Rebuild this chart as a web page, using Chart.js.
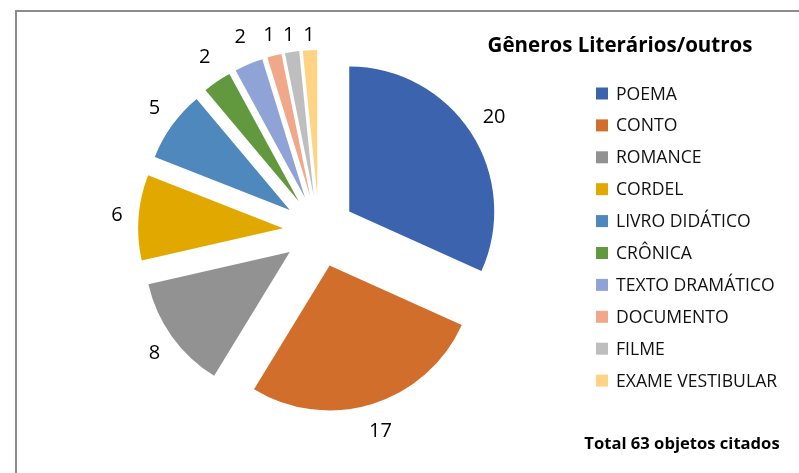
<!DOCTYPE html>
<html>
<head>
<meta charset="utf-8">
<script src="https://cdn.jsdelivr.net/npm/chart.js@4"></script>
<style>
  body { margin: 0; background: #fff; }
  #wrap { position: relative; width: 799px; height: 473px; overflow: hidden; }
  #frame { position: absolute; left: 15px; top: 10px; width: 800px; height: 480px; border: 2px solid #8c8c8c; }
  #chart { position: absolute; left: 0; top: 0; }
</style>
</head>
<body>
<div id="wrap">
  <div id="frame"></div>
  <canvas id="chart" width="799" height="473"></canvas>
</div>
<script>
const categories = ['POEMA', 'CONTO', 'ROMANCE', 'CORDEL', 'LIVRO DIDÁTICO', 'CRÔNICA',
    'TEXTO DRAMÁTICO', 'DOCUMENTO', 'FILME', 'EXAME VESTIBULAR'];
const counts = [20, 17, 8, 6, 5, 2, 2, 1, 1, 1];
const sliceColors = ['#3c64ae', '#d26e2b', '#929292', '#e1a900', '#4f88bd', '#62993e',
    '#8fa3d6', '#f1a78a', '#bebebe', '#ffd384'];
const legendTitle = 'Gêneros Literários/outros';
const totalNote = 'Total 63 objetos citados';

const FONT = "'Open Sans', sans-serif";
const EXPLODE = 36;

// push every slice out along its middle angle
const explodePlugin = {
    id: 'explode',
    beforeDatasetDraw(chart, args) {
        args.meta.data.forEach((arc) => {
            if (arc.explodeWrapped) return;
            const baseDraw = arc.draw;
            arc.draw = function () {
                const ctx = arguments[0];
                const mid = (this.startAngle + this.endAngle) / 2;
                ctx.save();
                ctx.translate(Math.cos(mid) * EXPLODE, Math.sin(mid) * EXPLODE);
                baseDraw.apply(this, arguments);
                ctx.restore();
            };
            arc.explodeWrapped = true;
        });
    }
};

// value labels outside each slice
const valueLabels = {
    id: 'valueLabels',
    afterDatasetsDraw(chart) {
        const ctx = chart.ctx;
        const meta = chart.getDatasetMeta(0);
        const values = chart.data.datasets[0].data;
        ctx.save();
        ctx.font = '20px ' + FONT;
        ctx.fillStyle = '#000';
        ctx.textAlign = 'center';
        ctx.textBaseline = 'middle';
        meta.data.forEach((arc, i) => {
            const text = String(values[i]);
            const mid = (arc.startAngle + arc.endAngle) / 2;
            const dx = Math.cos(mid), dy = Math.sin(mid);
            const r = arc.outerRadius + EXPLODE + 16;
            const w = ctx.measureText(text).width;
            let x = arc.x + dx * r + dx * w / 2;
            let y = arc.y + dy * r + dy * 13;
            y = Math.max(y, 35);
            ctx.fillText(text, x, y);
        });
        ctx.restore();
    }
};

// legend block, title and note on the right
const sideLegend = {
    id: 'sideLegend',
    afterDraw(chart) {
        const ctx = chart.ctx;
        const colors = chart.data.datasets[0].backgroundColor;
        ctx.save();
        ctx.fillStyle = '#000';
        ctx.textAlign = 'center';
        ctx.textBaseline = 'middle';
        ctx.font = 'bold 20.5px ' + FONT;
        ctx.fillText(legendTitle, 620, 46);

        ctx.font = '17.6px ' + FONT;
        ctx.textAlign = 'left';
        chart.data.labels.forEach((label, i) => {
            const y = 93.5 + i * 31.9;
            ctx.fillStyle = colors[i];
            ctx.fillRect(596, y - 6, 12, 12);
            ctx.fillStyle = '#111';
            ctx.fillText(label, 616, y + 1);
        });

        ctx.font = 'bold 16.6px ' + FONT;
        ctx.textAlign = 'center';
        ctx.fillStyle = '#000';
        ctx.fillText(totalNote, 682, 444);
        ctx.restore();
    }
};

function draw() {
    const ctx = document.getElementById('chart').getContext('2d');
    new Chart(ctx, {
        type: 'pie',
        data: {
            labels: categories,
            datasets: [{
                data: counts,
                backgroundColor: sliceColors,
                borderWidth: 0,
                hoverOffset: 0
            }]
        },
        options: {
            responsive: false,
            animation: false,
            events: [],
            layout: {
                padding: { left: 174, top: 86, right: 335, bottom: 97 }
            },
            plugins: {
                legend: { display: false },
                tooltip: { enabled: false }
            }
        },
        plugins: [explodePlugin, valueLabels, sideLegend]
    });
}

Promise.all([
    document.fonts.load("17px 'Open Sans'"),
    document.fonts.load("bold 17px 'Open Sans'")
]).then(draw, draw);
</script>
</body>
</html>
